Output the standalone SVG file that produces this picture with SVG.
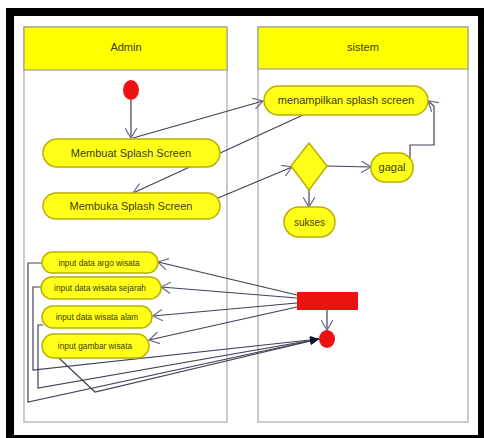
<svg xmlns="http://www.w3.org/2000/svg" width="484" height="438" viewBox="0 0 484 438">
<style>
.lane{fill:#ffffff;stroke:#a8a8a8;stroke-width:1.2}
.hdr{fill:#ffff00;stroke:#a0a090;stroke-width:1.2}
.act{fill:#ffff1a;stroke:#b8b000;stroke-width:1.5}
.t{font-family:"Liberation Sans",Arial,sans-serif;fill:#404000;text-anchor:middle}
.big{font-size:11px}
.mid{font-size:10px}
.sm{font-size:8.3px}
.c{fill:none;stroke:#404058;stroke-width:1.2}
.red{fill:#ee1111}
</style>
<defs>
<marker id="open" markerWidth="12" markerHeight="12" refX="10" refY="6" orient="auto" markerUnits="userSpaceOnUse">
<path d="M0,0 L10,6 L0,12" fill="none" stroke="#6a6a90" stroke-width="1.2"/>
</marker>
<marker id="fill" markerWidth="10" markerHeight="8" refX="9" refY="4" orient="auto" markerUnits="userSpaceOnUse">
<path d="M0,0 L9,4 L0,8 z" fill="#101030"/>
</marker>
</defs>
<rect x="0" y="0" width="484" height="438" fill="#ffffff"/>
<rect x="10" y="12" width="472" height="427" fill="#ffffff" stroke="#000000" stroke-width="8"/>

<g id="lane-admin">
<rect class="lane" x="24" y="27" width="203" height="395"/>
<rect class="hdr" x="24" y="27" width="203" height="43"/>
<text class="t big" x="126" y="51">Admin</text>
</g>
<g id="lane-sistem">
<rect class="lane" x="258" y="27" width="210" height="395"/>
<rect class="hdr" x="258" y="27" width="210" height="42"/>
<text class="t big" x="363" y="51">sistem</text>
</g>

<g id="connectors">
<line class="c" x1="131" y1="100" x2="131" y2="138" marker-end="url(#open)"/>
<line class="c" x1="133" y1="138" x2="263" y2="101" marker-end="url(#open)"/>
<line class="c" x1="303" y1="115" x2="133" y2="193" marker-end="url(#open)"/>
<line class="c" x1="218" y1="198" x2="292" y2="167" marker-end="url(#open)"/>
<line class="c" x1="327" y1="166" x2="371" y2="167" marker-end="url(#open)"/>
<line class="c" x1="309" y1="189" x2="309" y2="207" marker-end="url(#open)"/>
<polyline class="c" points="410,158 410,145 434,145 434,106 428,101" marker-end="url(#open)"/>
<line class="c" x1="297" y1="295" x2="158" y2="262" marker-end="url(#open)"/>
<line class="c" x1="297" y1="298" x2="161" y2="287" marker-end="url(#open)"/>
<line class="c" x1="297" y1="303" x2="153" y2="316" marker-end="url(#open)"/>
<line class="c" x1="297" y1="307" x2="149" y2="340" marker-end="url(#open)"/>
<line class="c" x1="327" y1="310" x2="327" y2="330" marker-end="url(#open)"/>
<polyline class="c" points="43,263 28,263 28,402 319,339" marker-end="url(#fill)"/>
<polyline class="c" points="42,287 33,287 33,370 319,339" marker-end="url(#fill)"/>
<polyline class="c" points="43,325 38,325 38,388 319,339" marker-end="url(#fill)"/>
<polyline class="c" points="45,345 95,392 319,339" marker-end="url(#fill)"/>
</g>

<g id="start"><ellipse class="red" cx="131" cy="90" rx="8" ry="10"/></g>
<g id="membuat">
<rect class="act" x="43" y="139" width="177" height="28" rx="14"/>
<text class="t big" x="131" y="157">Membuat Splash Screen</text>
</g>
<g id="membuka">
<rect class="act" x="43" y="193" width="177" height="26" rx="13"/>
<text class="t big" x="131" y="210">Membuka Splash Screen</text>
</g>
<g id="menampilkan">
<rect class="act" x="264" y="86" width="164" height="29" rx="14.5"/>
<text class="t big" x="346" y="104">menampilkan splash screen</text>
</g>
<g id="decision"><polygon points="309,143 327,166 309,190 291,166" fill="#ffff1a" stroke="#b8b000" stroke-width="1.5"/></g>
<g id="gagal">
<rect class="act" x="371" y="153" width="42" height="29" rx="14"/>
<text class="t big" x="392" y="171">gagal</text>
</g>
<g id="sukses">
<rect class="act" x="284" y="207" width="51" height="30" rx="15"/>
<text class="t mid" x="309.5" y="225.5">sukses</text>
</g>
<g id="argo">
<rect class="act" x="42" y="252" width="116" height="21" rx="10.5"/>
<text class="t sm" x="99" y="265.5">input data argo wisata</text>
</g>
<g id="sejarah">
<rect class="act" x="41" y="277" width="120" height="22" rx="11"/>
<text class="t sm" x="100" y="291">input data wisata sejarah</text>
</g>
<g id="alam">
<rect class="act" x="42" y="306" width="110" height="22" rx="11"/>
<text class="t sm" x="97" y="320">input data wisata alam</text>
</g>
<g id="gambar">
<rect class="act" x="42" y="334" width="107" height="24" rx="12"/>
<text class="t sm" x="95" y="349">input gambar wisata</text>
</g>
<g id="fork"><rect class="red" x="297" y="292" width="61" height="18"/></g>
<g id="end"><ellipse class="red" cx="327" cy="339" rx="8" ry="9"/></g>
</svg>
